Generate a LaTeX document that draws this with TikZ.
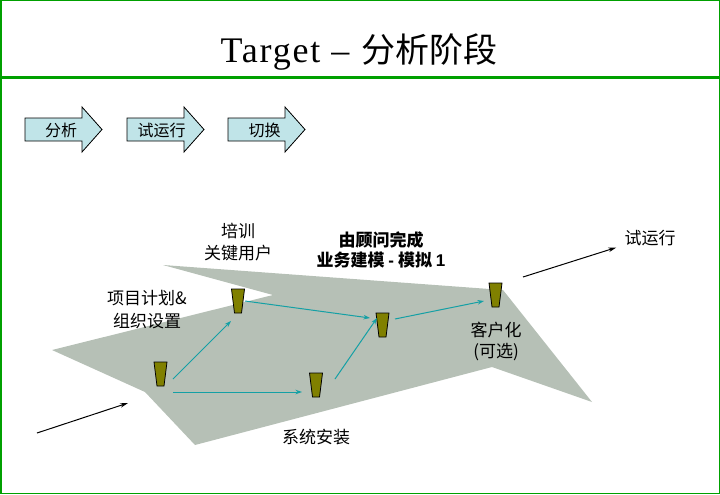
\documentclass[tikz,border=0pt]{standalone}
\usepackage{fontspec}
\setmainfont{Liberation Serif}
\newfontfamily\cjk{Noto Sans CJK SC}
\newfontfamily\titlef[LetterSpace=5]{Liberation Serif}
\newfontfamily\arialf{Liberation Sans}
\usetikzlibrary{arrows.meta,calc}

\definecolor{frameG}{RGB}{0,160,0}
\definecolor{polyG}{RGB}{182,192,182}
\definecolor{pinO}{RGB}{128,128,0}
\definecolor{tealA}{RGB}{20,160,165}
\definecolor{cyanF}{RGB}{192,228,232}

\begin{document}
\begin{tikzpicture}[x=1pt,y=-1pt,
 pinshape/.style={draw=black, line width=0.8pt, fill=pinO},
 lbl/.style={font=\cjk\fontsize{17}{21}\selectfont, align=center, inner sep=0pt},
 tealarrow/.style={draw=tealA, line width=1pt, -{Stealth[length=6.5pt,width=4.5pt]}},
 blackarrow/.style={draw=black, line width=1pt, -{Stealth[length=8pt,width=4.5pt]}},
 blockarrow/.style={draw=black, line width=0.8pt, fill=cyanF},
 blocktext/.style={font=\cjk\fontsize{16}{18}\selectfont, inner sep=0pt}]

\useasboundingbox (0,0) rectangle (720,495);

% frame
\draw[frameG, line width=1.5pt] (0.75,0.75) rectangle (719.25,493.5);
\draw[frameG, line width=2pt] (0,77.5) -- (720,77.5);

% title
\node[inner sep=0pt, font=\cjk\fontsize{34}{40}\selectfont] (title) at (359,52)
  {{\titlef\fontsize{36}{40}\selectfont Target}\hspace{11pt}{\titlef\fontsize{36}{40}\selectfont –}\hspace{12pt}分析阶段};

% phase arrows
\foreach \dx in {0,102,203}{
  \path[blockarrow, xshift=\dx pt] (25,118) -- (82,118) -- (82,107) -- (102,129.5)
     -- (82,152) -- (82,141) -- (25,141) -- cycle;
}
\node[blocktext] (s1) at (61,130) {分析};
\node[blocktext] (s2) at (161.5,130) {试运行};
\node[blocktext] (s3) at (264.5,130) {切换};

% gray plane
\fill[polyG] (163,265) -- (503,290) -- (592,402) -- (492,367) -- (195,445)
  -- (145,392) -- (52,350) -- (273,295) -- cycle;

% pins
\coordinate (p1) at (160.5,374);
\coordinate (p2) at (238,301);
\coordinate (p3) at (382.5,325);
\coordinate (p4) at (316,385);
\coordinate (p5) at (495.5,295);
\foreach \p in {p1,p2,p3,p4,p5}{
  \draw[pinshape] ($(\p)+(-6.5,-12)$) -- ($(\p)+(6.5,-12)$) -- ($(\p)+(3.5,12)$)
     -- ($(\p)+(-3.5,12)$) -- cycle;
}

% teal arrows
\draw[tealarrow] ($(p1)+(12.5,5)$) -- ($(p2)+(-7,20)$);
\draw[tealarrow] ($(p1)+(12.5,18)$) -- ($(p4)+(-14,7)$);
\draw[tealarrow] ($(p2)+(7,0)$) -- ($(p3)+(-12.5,-7)$);
\draw[tealarrow] ($(p4)+(19,-6)$) -- ($(p3)+(-5.5,-7)$);
\draw[tealarrow] ($(p3)+(12.5,-6)$) -- ($(p5)+(-11.5,6)$);

% labels
\node[lbl] (plan) at (147,309.5) {项目计划\&\\[2pt]组织设置};
\node[lbl] (train) at (238,242) {培训\\[1pt]关键用户};
\node[lbl, font=\cjk\bfseries\fontsize{17}{20}\selectfont] (model) at (381,250)
  {由顾问完成\\业务建模 {\arialf\bfseries -} 模拟 {\arialf\bfseries 1}};
\node[lbl] (cust) at (496,341.5) {客户化\\(可选)};
\node[lbl] (inst) at (316,437.5) {系统安装};
\node[lbl] (try) at (650,238.5) {试运行};

% black arrows
\coordinate (in0) at (37,433);
\coordinate (in1) at (128,403);
\draw[blackarrow] (in0) -- (in1);
\coordinate (out0) at (523,277);
\draw[blackarrow] (out0) -- ($(try.west)+(-8,9)$);
\end{tikzpicture}
\end{document}
